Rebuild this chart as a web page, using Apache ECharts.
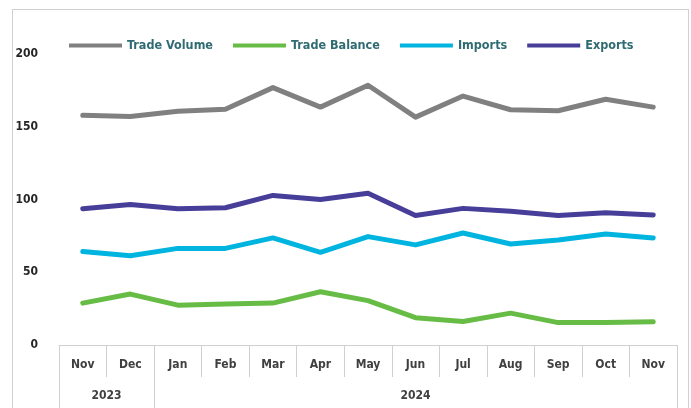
<!DOCTYPE html>
<html>
<head>
<meta charset="utf-8">
<script src="https://cdn.jsdelivr.net/npm/echarts@6/dist/echarts.min.js"></script>
<style>
  html, body { margin: 0; padding: 0; background: #fff; }
  #chart { width: 691px; height: 408px; }
  #frame { position: absolute; left: 12px; top: 9px; width: 675px; height: 420px; border: 1px solid #d0d0d0; }
</style>
</head>
<body>
<div id="frame"></div>
<div id="chart" style="position:absolute;left:0;top:0;"></div>
<script>
// 类目
const months = ['Nov', 'Dec', 'Jan', 'Feb', 'Mar', 'Apr', 'May', 'Jun', 'Jul', 'Aug', 'Sep', 'Oct', 'Nov']
const years = ['2023', '2024']
// 年份标签位置 (按类目序号计)
const yearCenters = [1, 7.5]
const yearBounds = [0, 2, 13]

// 数据
const tradeVolume = [157.9, 157.1, 160.6, 162.0, 176.9, 163.5, 178.5, 156.6, 171.1, 161.7, 161.0, 168.9, 163.5]
const tradeBalance = [28.8, 35.0, 27.4, 28.1, 28.8, 36.6, 30.5, 18.8, 16.1, 21.9, 15.4, 15.4, 15.9]
const imports = [64.3, 61.4, 66.4, 66.4, 73.6, 63.7, 74.5, 68.8, 77.0, 69.4, 72.2, 76.3, 73.6]
const exportsData = [93.6, 96.6, 93.6, 94.3, 102.8, 100.0, 104.3, 89.0, 93.9, 91.9, 89.0, 90.9, 89.4]

const yTicks = [0, 50, 100, 150, 200]

const font = '"Liberation Sans Narrow", "DejaVu Sans Condensed", "Open Sans", sans-serif'
const gridLine = '#d0d0d0'

const chart = echarts.init(document.getElementById('chart'))

function line(name, data, color) {
    return {
        name: name,
        type: 'line',
        data: data,
        symbol: 'none',
        lineStyle: { width: 5, color: color, cap: 'round', join: 'round' },
        itemStyle: { color: color },
        xAxisIndex: 0
    }
}

const option = {
    animation: false,
    backgroundColor: 'transparent',
    textStyle: { fontFamily: font },
    grid: { left: 59, right: 14, top: 54, bottom: 63 },
    legend: {
        top: 34,
        left: 64,
        itemWidth: 53,
        itemHeight: 4,
        itemGap: 20,
        icon: 'rect',
        textStyle: { color: '#2f6b73', fontSize: 12.5, fontWeight: 'bold', fontFamily: font },
        data: ['Trade Volume', 'Trade Balance', 'Imports', 'Exports']
    },
    xAxis: [
        {
            type: 'category',
            data: months,
            boundaryGap: true,
            axisLine: { show: true, lineStyle: { color: gridLine, width: 1 } },
            axisTick: { show: true, length: 32, interval: 0, lineStyle: { color: gridLine } },
            axisLabel: { color: '#404040', fontSize: 12, fontWeight: 'bold', margin: 14, interval: 0 }
        },
        {
            type: 'value',
            position: 'bottom',
            min: 0,
            max: 13,
            axisLine: { show: false },
            splitLine: { show: false },
            axisTick: { show: true, length: 80, customValues: yearBounds, lineStyle: { color: gridLine } },
            axisLabel: {
                show: true,
                customValues: yearCenters,
                margin: 45,
                color: '#404040',
                fontSize: 12,
                fontWeight: 'bold',
                formatter: function (v) { return years[yearCenters.indexOf(v)] }
            }
        }
    ],
    yAxis: {
        type: 'value',
        min: yTicks[0],
        max: yTicks[yTicks.length - 1],
        interval: 50,
        axisLine: { show: false },
        axisTick: { show: false },
        splitLine: { show: false },
        axisLabel: { color: '#262626', fontSize: 12, fontWeight: 'bold', margin: 21 }
    },
    series: [
        line('Trade Volume', tradeVolume, '#808080'),
        line('Trade Balance', tradeBalance, '#67bc45'),
        line('Imports', imports, '#00b4e0'),
        line('Exports', exportsData, '#463e98')
    ]
}

chart.setOption(option)
</script>
</body>
</html>
